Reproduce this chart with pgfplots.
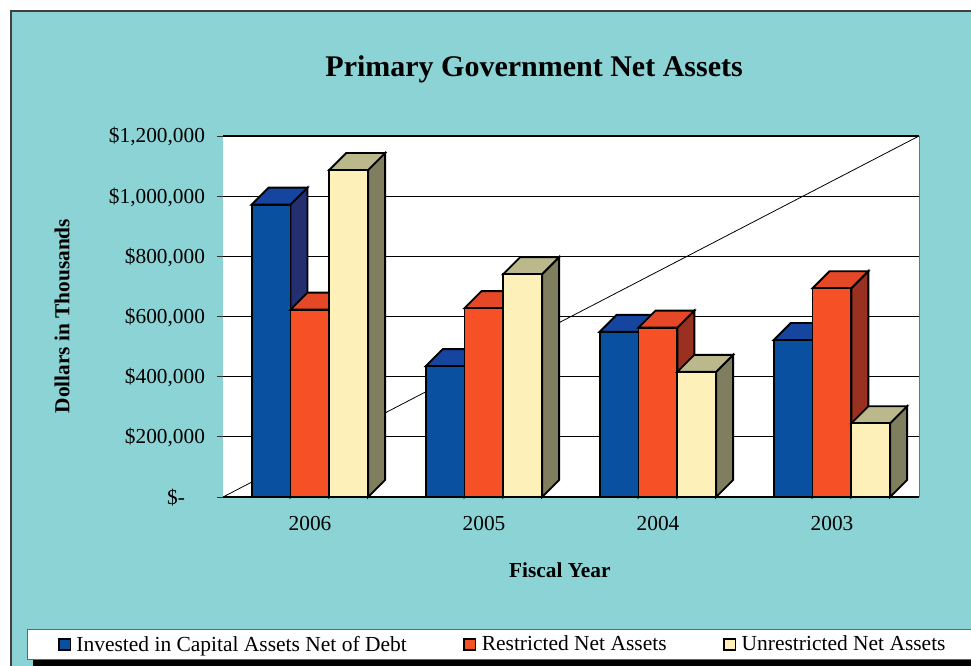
\documentclass[border=0pt]{standalone}
\usepackage{fontspec}
\setmainfont{Liberation Serif}
\usepackage{pgfplots}
\pgfplotsset{compat=1.18}

% panel and bar colours: front, side, top
\definecolor{panel}{HTML}{8CD3D5}
\definecolor{bluef}{HTML}{0A50A1}
\definecolor{blues}{HTML}{232F6E}
\definecolor{bluet}{HTML}{15459F}
\definecolor{redf}{HTML}{F55026}
\definecolor{reds}{HTML}{9A3120}
\definecolor{redt}{HTML}{E54826}
\definecolor{yelf}{HTML}{FDF0B8}
\definecolor{yels}{HTML}{7F7F5F}
\definecolor{yelt}{HTML}{BBB98C}

% #1 year position, #2 slot in the group, #3 value in thousands, #4 colour prefix
\newcommand{\threedbar}[4]{%
  \pgfmathsetmacro{\xa}{#1+#2*0.2230-0.3350}%
  \pgfmathsetmacro{\xb}{\xa+0.2230}%
  \pgfmathsetmacro{\xc}{\xb+0.0977}%
  \pgfmathsetmacro{\xd}{\xa+0.0977}%
  \pgfmathsetmacro{\vb}{#3+56.51}%
  \addplot[fill=#4s,barline] coordinates {(\xb,0)(\xc,56.51)(\xc,\vb)(\xb,#3)} --cycle;
  \addplot[fill=#4t,barline] coordinates {(\xa,#3)(\xb,#3)(\xc,\vb)(\xd,\vb)} --cycle;
  \addplot[fill=#4f,barline] coordinates {(\xa,0)(\xb,0)(\xb,#3)(\xa,#3)} --cycle;
}

\begin{document}
\begin{tikzpicture}
\path[use as bounding box] (0pt,0pt) rectangle (728.25pt,-499.5pt);
\begin{scope}[x=0.75pt,y=-0.75pt]
\fill[white] (0,0) rectangle (971,666);
\fill[panel] (11,11) rectangle (971,666);
\draw[black!75,line width=0.8pt] (11,666) -- (11,11) -- (971,11);
\fill[black] (33,655) rectangle (980,666);
\end{scope}
\begin{axis}[
  at={(167.25pt,-372.75pt)}, anchor=south west,
  scale only axis,
  width=522pt, height=270.75pt,
  clip=false,
  xmin=-0.5, xmax=3.5,
  ymin=0, ymax=1200,
  xtick={0,1,2,3},
  xticklabels={2006,2005,2004,2003},
  ytick={0,200,400,600,800,1000,1200},
  yticklabels={{\$-\rule{15pt}{0pt}},{\$200,000},{\$400,000},{\$600,000},{\$800,000},{\$1,000,000},{\$1,200,000}},
  scaled y ticks=false,
  axis line style={draw=none},
  axis background/.style={fill=white},
  ymajorgrids=true,
  grid style={black,line width=0.7pt},
  tick align=outside,
  tick pos=left,
  major tick length=4.5pt,
  xtick style={draw=none},
  ytick style={black!80,line width=0.7pt},
  ticklabel style={font=\fontsize{16}{19}\selectfont},
  tick label style={/pgf/number format/assume math mode=true},
  yticklabel style={xshift=-5.5pt,yshift=-0.6pt},
  xticklabel style={yshift=-6.7pt},
  title={Primary Government Net Assets},
  title style={at={(axis description cs:0.447,1.163)},anchor=center,font=\fontsize{22.5}{26}\selectfont\bfseries},
  xlabel={Fiscal Year},
  xlabel style={at={(axis description cs:0.484,-0.204)},anchor=center,font=\fontsize{16}{19}\selectfont\bfseries},
  ylabel={Dollars in Thousands},
  ylabel style={at={(axis description cs:-0.231,0.501)},anchor=center,font=\fontsize{16}{19}\selectfont\bfseries},
  barline/.style={draw=black,line width=1.4pt,line join=miter,forget plot},
  legend columns=3,
  legend cell align=left,
  legend image code/.code={\draw[#1,line width=1.2pt] (0pt,-4.3pt) rectangle (8.6pt,4.3pt);},
  legend style={
    at={(axis description cs:-0.2816,-0.4086)},anchor=west,
    draw=black!60,line width=0.6pt,fill=white,
    inner xsep=23pt,inner ysep=3pt,
    font=\fontsize{16.1}{19}\selectfont,
    /tikz/every even column/.append style={column sep=40.5pt},
    /tikz/every odd column/.append style={column sep=2pt},
  },
]
% stray diagonal of the original
\addplot[black,line width=0.6pt,forget plot] coordinates {(-0.5,0)(3.5,1200)};
% top and right edge of the plot area, base line
\addplot[black,line width=1.1pt,forget plot] coordinates {(-0.5,1200)(3.5,1200)};
\addplot[black!55,line width=0.7pt,forget plot] coordinates {(3.5,1200)(3.5,0)};
\addplot[black,line width=0.9pt,forget plot] coordinates {(-0.5,0)(3.5,0)};

\threedbar{0}{0}{972}{blue}
\threedbar{0}{1}{623}{red}
\threedbar{0}{2}{1087}{yel}
\threedbar{1}{0}{435}{blue}
\threedbar{1}{1}{628}{red}
\threedbar{1}{2}{741}{yel}
\threedbar{2}{0}{549}{blue}
\threedbar{2}{1}{563}{red}
\threedbar{2}{2}{416}{yel}
\threedbar{3}{0}{522}{blue}
\threedbar{3}{1}{694}{red}
\threedbar{3}{2}{245}{yel}

\addlegendimage{fill=bluef,draw=black}
\addlegendentry{Invested in Capital Assets Net of Debt}
\addlegendimage{fill=redf,draw=black}
\addlegendentry{Restricted Net Assets}
\addlegendimage{fill=yelf,draw=black}
\addlegendentry{Unrestricted Net Assets}
\end{axis}
\end{tikzpicture}
\end{document}
